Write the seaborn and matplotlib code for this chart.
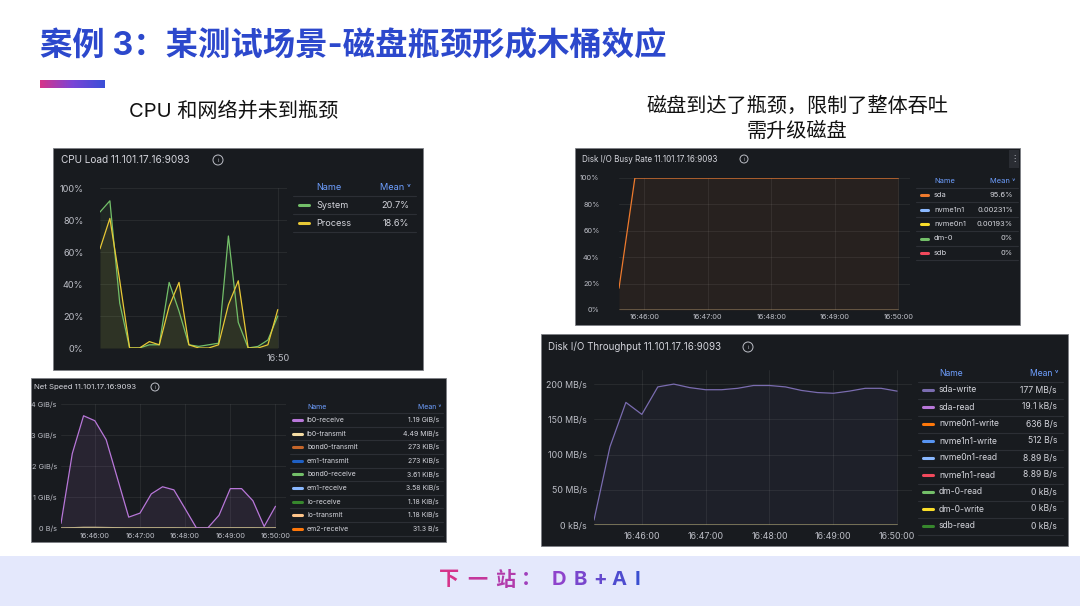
import pandas as pd
import matplotlib
matplotlib.use("Agg")
import matplotlib.pyplot as plt
import matplotlib.dates as mdates
from matplotlib.patches import Rectangle, Circle
from matplotlib.colors import LinearSegmentedColormap
import numpy as np
import seaborn as sns

W, H = 1080, 606

# ---------------------- DATA ----------------------
title = "案例 3：某测试场景-磁盘瓶颈形成木桶效应"
left_note = "CPU 和网络并未到瓶颈"
right_note = ["磁盘到达了瓶颈，限制了整体吞吐", "需升级磁盘"]
footer_chars = list("下一站：DB+AI")

# CPU Load (%)
cpu_times = pd.date_range("2024-05-20 16:45:30", "2024-05-20 16:50:00", freq="15s")
cpu_system = [85, 92, 28, 0, 0, 2, 2, 41, 23, 2, 1, 2, 3, 70, 16, 0, 1, 5, 20]
cpu_process = [62, 81, 42, 0, 0, 4, 2, 26, 41, 2, 0, 0, 2, 27, 42, 0, 0, 2, 24]
cpu_names = ["System", "Process"]
cpu_means = ["20.7%", "18.6%"]
cpu_yticks = [0, 20, 40, 60, 80, 100]
cpu_ylabels = ["0%", "20%", "40%", "60%", "80%", "100%"]

# Disk I/O Busy Rate (%)
busy_times = pd.to_datetime(["2024-05-20 16:45:36", "2024-05-20 16:45:51", "2024-05-20 16:50:00"])
busy_sda = [16.5, 100, 100]
busy_flat = [0, 0, 0]
busy_names = ["sda", "nvme1n1", "nvme0n1", "dm-0", "sdb"]
busy_means = ["95.6%", "0.00231%", "0.00193%", "0%", "0%"]
busy_yticks = [0, 20, 40, 60, 80, 100]
busy_ylabels = ["0%", "20%", "40%", "60%", "80%", "100%"]

# Net Speed (GiB/s)
net_times = pd.date_range("2024-05-20 16:45:15", "2024-05-20 16:50:00", freq="15s")
net_ib0_receive = [0.15, 2.4, 3.62, 3.46, 2.85, 1.6, 0.35, 0.48, 1.1, 1.33,
                   1.23, 0.62, 0.0, 0.0, 0.41, 1.27, 1.27, 0.88, 0.05, 0.7]
net_ib0_transmit = [0.0, 0.01, 0.02, 0.02, 0.015, 0.01, 0.005, 0.005, 0.005, 0.005,
                    0.005, 0.0, 0.0, 0.0, 0.005, 0.005, 0.005, 0.005, 0.0, 0.005]
net_flat = [0.0, 0.0, 0.0, 0.0, 0.0, 0.0, 0.0, 0.0, 0.0, 0.0,
            0.0, 0.0, 0.0, 0.0, 0.0, 0.0, 0.0, 0.0, 0.0, 0.0]
net_names = ["ib0-receive", "ib0-transmit", "bond0-transmit", "em1-transmit", "bond0-receive",
             "em1-receive", "lo-receive", "lo-transmit", "em2-receive"]
net_means = ["1.19 GiB/s", "4.49 MiB/s", "273 KiB/s", "273 KiB/s", "3.61 KiB/s",
             "3.58 KiB/s", "1.18 KiB/s", "1.18 KiB/s", "31.3 B/s"]
net_yticks = [0, 1, 2, 3, 4]
net_ylabels = ["0 B/s", "1 GiB/s", "2 GiB/s", "3 GiB/s", "4 GiB/s"]

# Disk I/O Throughput (MB/s)
tp_times = pd.date_range("2024-05-20 16:45:15", "2024-05-20 16:50:00", freq="15s")
tp_sda_write = [7, 111, 174, 157, 196, 200, 195, 192, 192, 194,
                198, 198, 196, 191, 188, 187, 190, 194, 194, 190]
tp_flat = [0, 0, 0, 0, 0, 0, 0, 0, 0, 0, 0, 0, 0, 0, 0, 0, 0, 0, 0, 0]
tp_names = ["sda-write", "sda-read", "nvme0n1-write", "nvme1n1-write", "nvme0n1-read",
            "nvme1n1-read", "dm-0-read", "dm-0-write", "sdb-read"]
tp_means = ["177 MB/s", "19.1 kB/s", "636 B/s", "512 B/s", "8.89 B/s",
            "8.89 B/s", "0 kB/s", "0 kB/s", "0 kB/s"]
tp_yticks = [0, 50, 100, 150, 200]
tp_ylabels = ["0 kB/s", "50 MB/s", "100 MB/s", "150 MB/s", "200 MB/s"]

# ---------------------- STYLE ----------------------
sns.set_style("white")
plt.rcParams["font.family"] = ["Inter", "Noto Sans CJK SC", "DejaVu Sans"]

PANEL = "#181b1f"
TICK = "#bcbec6"
TXT = "#d4d5dc"
HEAD = "#6e9fff"
SEP = "#2c2f35"

cpu_colors = ["#73bf69", "#e8c936"]
busy_colors = ["#ee7a2d", "#8ab8ff", "#fade2a", "#73bf69", "#f2495c"]
net_colors = ["#b877d9", "#f4dca4", "#c4652a", "#1f60c4", "#73bf69",
              "#8ab8ff", "#37872d", "#ffc58a", "#ff780a"]
tp_colors = ["#7a6cb0", "#b877d9", "#ff780a", "#5794f2", "#8ab8ff",
             "#f2495c", "#73bf69", "#fade2a", "#37872d"]

fig = plt.figure(figsize=(W / 100, H / 100), dpi=100)
fig.patch.set_facecolor("white")

bg = fig.add_axes([0, 0, 1, 1], zorder=0)
bg.set_xlim(0, W)
bg.set_ylim(H, 0)
bg.axis("off")


def fbox(x0, y0, x1, y1):
    return [x0 / W, 1 - y1 / H, (x1 - x0) / W, (y1 - y0) / H]


def panel(x0, y0, x1, y1, name, tx, ty, tfs, ix, ir):
    bg.add_patch(Rectangle((x0, y0), x1 - x0, y1 - y0, facecolor=PANEL,
                           edgecolor="#7d7f85", lw=0.6))
    bg.text(tx, ty, name, color=TXT, fontsize=tfs, va="center", ha="left")
    bg.add_patch(Circle((ix, ty), ir, fill=False, edgecolor=TICK, lw=0.7))
    bg.text(ix, ty + 0.3, "i", color=TICK, fontsize=tfs * 0.6, ha="center", va="center")


def legend(sw0, sw1, xn, xv, s0, s1, yh, y0, step, names, means, colors, fs):
    bg.text(xn, yh, "Name", color=HEAD, fontsize=fs, va="center", ha="left")
    bg.text(xv + 2, yh, "Mean ˅", color=HEAD, fontsize=fs, va="center", ha="right")
    for i, (n, m, c) in enumerate(zip(names, means, colors)):
        y = y0 + i * step
        bg.plot([s0, s1], [y - step / 2] * 2, color=SEP, lw=0.8)
        bg.plot([sw0, sw1], [y, y], color=c, lw=2.2, solid_capstyle="round")
        bg.text(xn, y, n, color=TXT, fontsize=fs, va="center", ha="left")
        bg.text(xv, y, m, color=TXT, fontsize=fs, va="center", ha="right")
    bg.plot([s0, s1], [y0 + (len(names) - 0.5) * step] * 2, color=SEP, lw=0.8)


def style(ax, fs, ypad, xpad):
    ax.set_facecolor("none")
    for s in ax.spines.values():
        s.set_visible(False)
    ax.grid(True, color="#ffffff", alpha=0.08, lw=0.6)
    ax.tick_params(labelcolor=TICK, labelsize=fs, length=0)
    ax.tick_params(axis="y", pad=ypad)
    ax.tick_params(axis="x", pad=xpad)
    ax.set_xlabel("")
    ax.set_ylabel("")


# ---------------------- SLIDE TEXT ----------------------
bg.text(40, 47, title, color="#2c48cc", fontsize=23.3, fontweight="bold", va="center", ha="left")
grad = np.linspace(0, 1, 100).reshape(1, -1)
bar_cmap = LinearSegmentedColormap.from_list("bar", ["#d6338a", "#7b45d6", "#3a4fd8"])
bg.imshow(grad, cmap=bar_cmap, extent=[40, 105, 88, 80], aspect="auto", zorder=2)
bg.set_xlim(0, W)
bg.set_ylim(H, 0)

bg.text(234, 111, left_note, color="#111111", fontsize=14.5, ha="center", va="center")
bg.text(797, 106, right_note[0], color="#111111", fontsize=14.5, ha="center", va="center")
bg.text(797, 131, right_note[1], color="#111111", fontsize=14.5, ha="center", va="center")

bg.add_patch(Rectangle((0, 556), W, 50, facecolor="#e4e8fc", edgecolor="none"))
foot_x = [449, 477, 505, 531, 559, 580, 600, 619, 638]
foot_cmap = LinearSegmentedColormap.from_list("foot", ["#d6338a", "#8e43cc", "#3a4fd0"])
for i, (ch, fx) in enumerate(zip(footer_chars, foot_x)):
    bg.text(fx, 580, ch, color=foot_cmap(i / (len(footer_chars) - 1)), fontsize=14.5,
            fontweight="bold", ha="center", va="center")

# ---------------------- CPU LOAD ----------------------
panel(53, 148, 423, 370, "CPU Load 11.101.17.16:9093", 61, 160, 7.2, 218, 5)
ax = fig.add_axes(fbox(100, 188, 287, 348), zorder=1)
for vals, c in zip([cpu_system, cpu_process], cpu_colors):
    sns.lineplot(x=cpu_times, y=vals, ax=ax, color=c, lw=0.9, legend=False)
    ax.fill_between(cpu_times, vals, color=c, alpha=0.08, lw=0)
ax.set_ylim(0, 100)
ax.set_xlim(cpu_times[0], cpu_times[-1] + pd.Timedelta(seconds=14))
ax.set_yticks(cpu_yticks, cpu_ylabels)
ax.set_xticks([cpu_times[-1]])
ax.xaxis.set_major_formatter(mdates.DateFormatter("%H:%M"))
style(ax, 6.6, 12, 4)
legend(299, 309, 316, 409, 293, 416, 187, 205, 18, cpu_names, cpu_means, cpu_colors, 6.6)

# ---------------------- DISK BUSY ----------------------
panel(575, 148, 1020, 325, "Disk I/O Busy Rate 11.101.17.16:9093", 582, 159, 5.8, 744, 4)
bg.add_patch(Rectangle((1009, 150), 10, 18, facecolor="#2a2d33", edgecolor="none"))
bg.text(1014, 159, "⋮", color=TICK, fontsize=6, ha="center", va="center")
ax = fig.add_axes(fbox(619, 178, 910, 310), zorder=1)
busy_series = [busy_sda, busy_flat, busy_flat, busy_flat, busy_flat]
for vals, c in zip(busy_series, busy_colors):
    sns.lineplot(x=busy_times, y=vals, ax=ax, color=c, lw=0.9, legend=False)
ax.fill_between(busy_times, busy_sda, color=busy_colors[0], alpha=0.07, lw=0)
ax.set_ylim(0, 100)
ax.set_xlim(busy_times[0], busy_times[-1] + pd.Timedelta(seconds=11))
ax.set_yticks(busy_yticks, busy_ylabels)
ax.xaxis.set_major_locator(mdates.MinuteLocator())
ax.xaxis.set_major_formatter(mdates.DateFormatter("%H:%M:%S"))
style(ax, 5.3, 14, 3)
legend(921, 928, 934, 1013, 916, 1018, 181, 195, 14.5, busy_names, busy_means, busy_colors, 5.4)

# ---------------------- NET SPEED ----------------------
panel(31, 378, 446, 542, "Net Speed 11.101.17.16:9093", 34, 387, 5.6, 155, 4)
ax = fig.add_axes(fbox(61, 404, 286, 528), zorder=1)
net_series = [net_ib0_receive, net_ib0_transmit, net_flat, net_flat, net_flat,
              net_flat, net_flat, net_flat, net_flat]
order = [1, 2, 3, 4, 6, 7, 8, 5, 0]
for i in order:
    sns.lineplot(x=net_times, y=net_series[i], ax=ax, color=net_colors[i], lw=0.9, legend=False)
ax.fill_between(net_times, net_ib0_receive, color=net_colors[0], alpha=0.1, lw=0)
ax.set_ylim(0, 4)
ax.set_xlim(net_times[0], net_times[-1] + pd.Timedelta(seconds=14))
ax.set_yticks(net_yticks, net_ylabels)
ax.xaxis.set_major_locator(mdates.MinuteLocator())
ax.xaxis.set_major_formatter(mdates.DateFormatter("%H:%M:%S"))
style(ax, 5.3, 3, 3.5)
legend(293, 302, 307, 439, 290, 443, 407, 420, 13.6, net_names, net_means, net_colors, 5.0)

# ---------------------- DISK THROUGHPUT ----------------------
panel(541, 334, 1068, 546, "Disk I/O Throughput 11.101.17.16:9093", 548, 347, 7.0, 748, 5)
ax = fig.add_axes(fbox(594, 370, 912, 525), zorder=1)
tp_series = [tp_sda_write] + [tp_flat] * 8
order = [1, 2, 3, 4, 5, 6, 8, 7, 0]
for i in order:
    sns.lineplot(x=tp_times, y=tp_series[i], ax=ax, color=tp_colors[i], lw=0.9, legend=False)
ax.fill_between(tp_times, tp_sda_write, color=tp_colors[0], alpha=0.07, lw=0)
ax.set_ylim(0, 220)
ax.set_xlim(tp_times[0], tp_times[-1] + pd.Timedelta(seconds=14))
ax.set_yticks(tp_yticks, tp_ylabels)
ax.xaxis.set_major_locator(mdates.MinuteLocator())
ax.xaxis.set_major_formatter(mdates.DateFormatter("%H:%M:%S"))
style(ax, 6.4, 5, 5)
legend(923, 933, 939, 1057, 918, 1063, 373, 390, 17, tp_names, tp_means, tp_colors, 6.2)

fig.savefig("out.png", dpi=100, facecolor=fig.get_facecolor())
